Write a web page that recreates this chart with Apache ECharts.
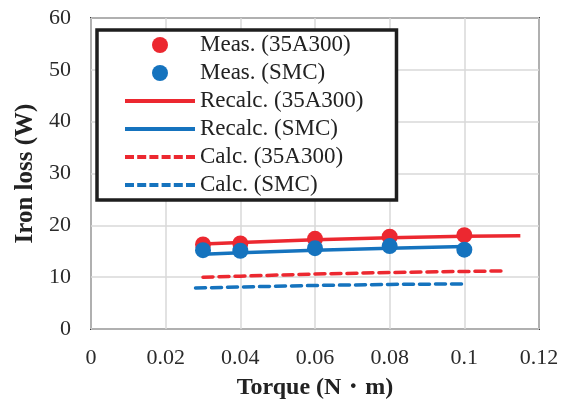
<!DOCTYPE html>
<html>
<head>
<meta charset="utf-8">
<script src="https://cdn.jsdelivr.net/npm/echarts@6/dist/echarts.min.js"></script>
<style>
  html, body { margin: 0; padding: 0; background: #fff; }
  #chart { width: 563px; height: 406px; }
</style>
</head>
<body>
<div id="chart"></div>
<script>
// torque (N·m) at the measurement points
const torqueMeas = [0.03, 0.04, 0.06, 0.08, 0.1]
const meas35A300 = [16.3, 16.5, 17.4, 17.8, 18.1]
const measSMC = [15.2, 15.1, 15.6, 16.0, 15.3]

const torqueRecalc35 = [0.03, 0.04, 0.06, 0.08, 0.1, 0.115]
const recalc35A300 = [16.4, 16.7, 17.2, 17.6, 17.9, 18.0]
const torqueRecalcSMC = [0.03, 0.04, 0.06, 0.08, 0.1]
const recalcSMC = [14.4, 14.7, 15.2, 15.6, 15.9]

const torqueCalc35 = [0.03, 0.04, 0.06, 0.08, 0.1, 0.11]
const calc35A300 = [10.0, 10.2, 10.6, 10.9, 11.1, 11.2]
const torqueCalcSMC = [0.028, 0.04, 0.06, 0.08, 0.1]
const calcSMC = [7.9, 8.1, 8.4, 8.6, 8.7]

const RED = '#EC2830'
const BLUE = '#1573BE'
const FONT = '"Liberation Serif", "Times New Roman", serif'

// legend icons: plain bar for solid lines, row of short bars for dashed ones
const ICON_SOLID = 'path://M0,0h70v4h-70z'
const ICON_DASH = 'path://M0,0h9v4h-9zM12.2,0h9v4h-9zM24.4,0h9v4h-9zM36.6,0h9v4h-9zM48.8,0h9v4h-9zM61,0h9v4h-9z'

function pairs (xs, ys) {
	return xs.map((x, i) => [x, ys[i]])
}

const chart = echarts.init(document.getElementById('chart'))

chart.setOption({
	animation: false,
	textStyle: { fontFamily: FONT },
	grid: {
		left: 91, right: 24, top: 18, bottom: 77,
		show: true,
		borderColor: '#3a3a3a',
		borderWidth: 2
	},
	legend: {
		orient: 'vertical',
		left: 97,
		top: 30,
		padding: [3, 33, 3, 28],
		itemWidth: 70,
		itemHeight: 16,
		itemGap: 4,
		backgroundColor: '#fff',
		borderColor: '#1e1e1e',
		borderWidth: 3.5,
		textStyle: { fontFamily: FONT, fontSize: 23, color: '#222', lineHeight: 24 },
		data: [
			{ name: 'Meas. (35A300)', icon: 'circle' },
			{ name: 'Meas. (SMC)', icon: 'circle' },
			{ name: 'Recalc. (35A300)', icon: ICON_SOLID },
			{ name: 'Recalc. (SMC)', icon: ICON_SOLID },
			{ name: 'Calc. (35A300)', icon: ICON_DASH },
			{ name: 'Calc. (SMC)', icon: ICON_DASH }
		]
	},
	xAxis: {
		type: 'value',
		min: 0, max: 0.12, interval: 0.02,
		name: 'Torque (N・m)',
		nameLocation: 'middle',
		nameGap: 47,
		nameTextStyle: { fontFamily: FONT, fontSize: 24, fontWeight: 'bold', color: '#222' },
		axisLine: { show: false },
		axisTick: { show: false },
		axisLabel: { fontFamily: FONT, fontSize: 22, color: '#2a2a2a', margin: 18 },
		splitLine: { lineStyle: { color: '#d9d9d9', width: 1.5 } }
	},
	yAxis: {
		type: 'value',
		min: 0, max: 60, interval: 10,
		name: 'Iron loss (W)',
		nameLocation: 'middle',
		nameGap: 53,
		nameTextStyle: { fontFamily: FONT, fontSize: 25, fontWeight: 'bold', color: '#222' },
		axisLine: { show: false },
		axisTick: { show: false },
		axisLabel: { fontFamily: FONT, fontSize: 22, color: '#2a2a2a', margin: 20 },
		splitLine: { lineStyle: { color: '#d9d9d9', width: 1.5 } }
	},
	series: [
		{
			name: 'Meas. (35A300)', type: 'scatter', z: 5,
			symbolSize: 16, itemStyle: { color: RED, opacity: 1 },
			data: pairs(torqueMeas, meas35A300)
		},
		{
			name: 'Meas. (SMC)', type: 'scatter', z: 5,
			symbolSize: 16, itemStyle: { color: BLUE, opacity: 1 },
			data: pairs(torqueMeas, measSMC)
		},
		{
			name: 'Recalc. (35A300)', type: 'line', symbol: 'none',
			lineStyle: { color: RED, width: 3.5 }, itemStyle: { color: RED },
			data: pairs(torqueRecalc35, recalc35A300)
		},
		{
			name: 'Recalc. (SMC)', type: 'line', symbol: 'none',
			lineStyle: { color: BLUE, width: 3.5 }, itemStyle: { color: BLUE },
			data: pairs(torqueRecalcSMC, recalcSMC)
		},
		{
			name: 'Calc. (35A300)', type: 'line', symbol: 'none',
			lineStyle: { color: RED, width: 3.5, type: [10, 6], cap: 'round' }, itemStyle: { color: RED },
			data: pairs(torqueCalc35, calc35A300)
		},
		{
			name: 'Calc. (SMC)', type: 'line', symbol: 'none',
			lineStyle: { color: BLUE, width: 3.5, type: [10, 6], cap: 'round' }, itemStyle: { color: BLUE },
			data: pairs(torqueCalcSMC, calcSMC)
		}
	]
})
</script>
</body>
</html>
